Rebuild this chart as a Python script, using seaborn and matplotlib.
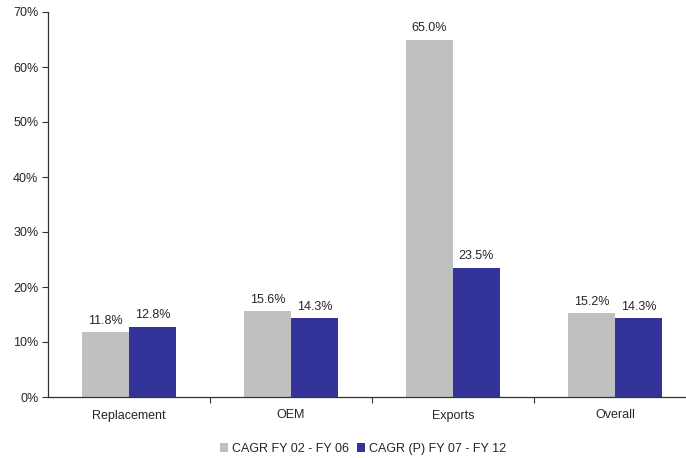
import matplotlib
matplotlib.use("Agg")
import matplotlib.pyplot as plt
import seaborn as sns
import pandas as pd
from matplotlib.ticker import FixedLocator, NullFormatter

categories = ["Replacement", "OEM", "Exports", "Overall"]
series_names = ["CAGR FY 02 - FY 06", "CAGR (P) FY 07 - FY 12"]
cagr_fy02_fy06 = [11.8, 15.6, 65.0, 15.2]
cagr_fy07_fy12 = [12.8, 14.3, 23.5, 14.3]
y_ticks = [0, 10, 20, 30, 40, 50, 60, 70]

colors = ["#C0C0C0", "#333399"]

df = pd.DataFrame({
    "category": categories * 2,
    "series": [series_names[0]] * 4 + [series_names[1]] * 4,
    "value": cagr_fy02_fy06 + cagr_fy07_fy12,
})

sns.set_style("white")
plt.rcParams["font.family"] = ["Liberation Sans", "DejaVu Sans"]

fig = plt.figure(figsize=(6.86, 4.58), dpi=100)
ax = fig.add_axes([48 / 686, 61 / 458, 648 / 686, 385 / 458])

sns.barplot(data=df, x="category", y="value", hue="series",
            palette=colors, width=0.58, saturation=1, ax=ax,
            edgecolor="none", linewidth=0)

ax.set_ylim(0, 70)
ax.set_xlim(-0.5, 3.5)
ax.set_yticks(y_ticks)
ax.set_yticklabels([f"{t}%" for t in y_ticks], fontsize=9)
ax.set_xlabel("")
ax.set_ylabel("")

# category labels without ticks; tick marks sit between categories
ax.set_xticks(range(len(categories)))
ax.set_xticklabels(categories, fontsize=9)
ax.tick_params(axis="x", which="major", bottom=True, length=0, pad=9)
ax.xaxis.set_minor_locator(FixedLocator([0.5, 1.5, 2.5]))
ax.xaxis.set_minor_formatter(NullFormatter())
ax.tick_params(axis="x", which="minor", bottom=True, length=4, width=0.8,
               color="#333333", direction="out")
ax.tick_params(axis="y", left=True, length=4, width=0.8, color="#333333",
               direction="out", pad=3)

for side in ["top", "right"]:
    ax.spines[side].set_visible(False)
for side in ["left", "bottom"]:
    ax.spines[side].set_color("#333333")
    ax.spines[side].set_linewidth(0.9)

for container in ax.containers:
    labels = [f"{b.get_height():.1f}%" for b in container]
    ax.bar_label(container, labels=labels, padding=4, fontsize=9)

leg = ax.legend(loc="center", bbox_to_anchor=(363 / 686, 9 / 458),
                bbox_transform=fig.transFigure, ncol=2, frameon=False,
                fontsize=9, handlelength=0.7, handleheight=0.7,
                handletextpad=0.3, columnspacing=0.6)

fig.savefig("out.png", dpi=100)
